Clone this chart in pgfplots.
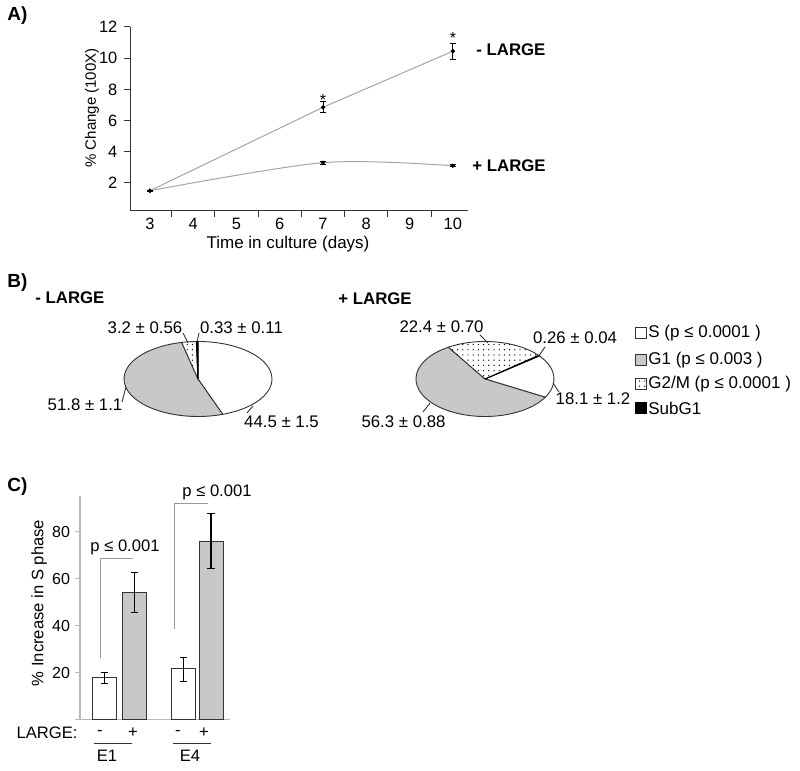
\documentclass[border=0pt]{standalone}
\usepackage{fontspec}
\setmainfont{Liberation Sans}
\usepackage{pgfplots}
\usepackage{pgfplotstable}
\pgfplotsset{compat=1.18}
\usetikzlibrary{patterns}

\definecolor{barfill}{RGB}{200,200,200}
\definecolor{linegray}{RGB}{165,165,165}
\definecolor{axgray}{RGB}{185,185,185}

\pgfdeclarepatternformonly{sparsedots}{\pgfqpoint{-1pt}{-1pt}}{\pgfqpoint{1pt}{1pt}}{\pgfqpoint{2.6pt}{2.6pt}}%
  {\pgfpathcircle{\pgfqpoint{0pt}{0pt}}{0.35pt}\pgfusepath{fill}}

\newcommand\fs[1]{\fontsize{#1}{#1}\selectfont}
% one slice of an elliptic pie, in the axis of that pie
\newcommand\slice[5]{\path[#5] (axis cs:0,0) -- (axis cs:{cos(#1)},{sin(#1)})
  arc[start angle=#1, end angle=#2, x radius=#3, y radius=#4] -- cycle;}

% A) growth, % change (100X)
\pgfplotstableread{
day minus minuserr plus pluserr
3   1.5   0.05     1.5  0.05
7   6.85  0.35     3.3  0.08
10  10.45 0.5      3.1  0.06
}\growth

% C) increase in S phase
\pgfplotstableread{
x    y    e
0    17.9 2.5
2.63 21.7 5.1
}\sminus
\pgfplotstableread{
x    y    e
1    54.3 8.6
3.55 76.1 11.7
}\splus

\begin{document}
\begin{tikzpicture}[x=0.5pt, y=0.5pt, lab/.style={inner sep=0pt}]
\useasboundingbox (0,0) rectangle (800,771);
\coordinate (pA) at (130,560);
\coordinate (pBl) at (124,354.5);
\coordinate (pBr) at (416,354.5);
\coordinate (pC) at (80,51);

% ---------------- A ----------------
\begin{axis}[
  at={(pA)}, anchor=south west, scale only axis,
  width=169pt, height=92pt,
  xmin=2.54, xmax=10.35, ymin=0.2, ymax=12,
  axis x line=bottom, axis y line=left,
  axis line style={-, black!80, line width=0.5pt},
  xtick={3,...,10}, minor xtick={3.5,4.5,...,9.5},
  ytick={2,4,...,12}, minor ytick={2,4,...,12},
  tick align=outside, major tick length=0pt, minor tick length=3pt,
  tick style={black!80, line width=0.5pt},
  ticklabel style={font=\fs{8.2}},
  yticklabel style={xshift=-2.8pt},
  /pgf/number format/assume math mode=true,
  clip=false,
]
\addplot[linegray, line width=0.5pt, mark=*, mark size=0.8pt, mark options={black},
  error bars/.cd, y dir=both, y explicit,
  error bar style={black, line width=0.5pt},
  error mark options={rotate=90, black, mark size=1.4pt}]
  table[x=day, y=minus, y error=minuserr] {\growth};
\addplot[linegray, line width=0.5pt, smooth, mark=*, mark size=0.8pt, mark options={black},
  error bars/.cd, y dir=both, y explicit,
  error bar style={black, line width=0.5pt},
  error mark options={rotate=90, black, mark size=1.4pt}]
  table[x=day, y=plus, y error=pluserr] {\growth};
\node[lab, font=\fs{8}] at (axis cs:7,7.35) {*};
\node[lab, font=\fs{8}] at (axis cs:10,11.3) {*};
\end{axis}
\node[lab, anchor=west, font=\bfseries\fs{9.5}] at (7,755) {A)};
\node[lab, anchor=west, font=\bfseries\fs{8.4}] at (476,721) {- LARGE};
\node[lab, anchor=west, font=\bfseries\fs{8.4}] at (472,605) {+ LARGE};
\node[lab, font=\fs{8.5}] at (288,527) {Time in culture (days)};
\node[lab, rotate=90, font=\fs{7.5}] at (92,663) {\% Change (100X)};

% ---------------- B ----------------
% -LARGE: S, G1, G2/M, SubG1 (percent), from 12 o'clock clockwise
\pgfmathsetmacro\kL{360/(44.5+51.8+3.2+0.33)}
\pgfmathsetmacro\LaA{90}
\pgfmathsetmacro\LaB{\LaA-44.5*\kL}
\pgfmathsetmacro\LaC{\LaB-51.8*\kL}
\pgfmathsetmacro\LaD{\LaC-3.2*\kL}
\pgfmathsetmacro\LaE{\LaD-0.33*\kL}
% +LARGE
\pgfmathsetmacro\kR{360/(18.1+56.3+22.4+0.26)}
\pgfmathsetmacro\RaA{38}
\pgfmathsetmacro\RaB{\RaA-18.1*\kR}
\pgfmathsetmacro\RaC{\RaB-56.3*\kR}
\pgfmathsetmacro\RaD{\RaC-22.4*\kR}
\pgfmathsetmacro\RaE{\RaD-0.26*\kR}

\begin{axis}[at={(pBl)}, anchor=south west, scale only axis,
  width=74pt, height=37.5pt, xmin=-1, xmax=1, ymin=-1, ymax=1,
  hide axis, clip=false]
\slice{\LaA}{\LaB}{37pt}{18.75pt}{fill=white, draw=black!80, line width=0.45pt}
\slice{\LaB}{\LaC}{37pt}{18.75pt}{fill=barfill, draw=black!80, line width=0.45pt}
\slice{\LaC}{\LaD}{37pt}{18.75pt}{fill=white, draw=black!80, line width=0.45pt, postaction={pattern=sparsedots}}
\slice{\LaD}{\LaE}{37pt}{18.75pt}{fill=black, draw=black, line width=0.6pt}
\end{axis}

\begin{axis}[at={(pBr)}, anchor=south west, scale only axis,
  width=69pt, height=37.5pt, xmin=-1, xmax=1, ymin=-1, ymax=1,
  hide axis, clip=false]
\slice{\RaA}{\RaB}{34.5pt}{18.75pt}{fill=white, draw=black!80, line width=0.45pt}
\slice{\RaB}{\RaC}{34.5pt}{18.75pt}{fill=barfill, draw=black!80, line width=0.45pt}
\slice{\RaC}{\RaD}{34.5pt}{18.75pt}{fill=white, draw=black!80, line width=0.45pt, postaction={pattern=sparsedots}}
\slice{\RaD}{\RaE}{34.5pt}{18.75pt}{fill=black, draw=black, line width=0.45pt}
\end{axis}

\node[lab, anchor=west, font=\bfseries\fs{9.5}] at (7,488) {B)};
\node[lab, anchor=west, font=\bfseries\fs{8.4}] at (35,473) {- LARGE};
\node[lab, anchor=west, font=\bfseries\fs{8.4}] at (338,472) {+ LARGE};

\begin{scope}[font=\fs{8.4}]
\node[lab] at (145,443) {3.2 ± 0.56};
\node[lab] at (241.5,443) {0.33 ± 0.11};
\node[lab] at (85,366) {51.8 ± 1.1};
\node[lab] at (281.5,349) {44.5 ± 1.5};
\node[lab] at (441.5,444) {22.4 ± 0.70};
\node[lab] at (575,433) {0.26 ± 0.04};
\node[lab] at (593,372) {18.1 ± 1.2};
\node[lab] at (403.5,349) {56.3 ± 0.88};
\end{scope}
\begin{scope}[black!80, line width=0.45pt]
\draw (183,438) -- (188,428);
\draw (199,438) -- (197,429);
\draw (122,369) -- (126,384);
\draw (247,358) -- (253,365);
\draw (480,436) -- (488,428);
\draw (545,424) -- (538,414);
\draw (553,388) -- (559,379);
\draw (430,368) -- (423,359);
\end{scope}

% legend
\draw[black!80, line width=0.45pt, fill=white] (635,432.5) rectangle (646,443.5);
\draw[black!80, line width=0.45pt, fill=barfill] (635,405.5) rectangle (646,416.5);
\draw[black!80, line width=0.45pt, fill=white, postaction={pattern=sparsedots}] (635,381.5) rectangle (646,392.5);
\draw[black, line width=0.45pt, fill=black] (635,357.5) rectangle (646,368.5);
\begin{scope}[font=\fs{8.5}]
\node[lab, anchor=west] at (648,438) {S (p ≤ 0.0001 )};
\node[lab, anchor=west] at (648,411) {G1 (p ≤ 0.003 )};
\node[lab, anchor=west] at (648,387) {G2/M (p ≤ 0.0001 )};
\node[lab, anchor=west] at (648,363) {SubG1};
\end{scope}

% ---------------- C ----------------
\begin{axis}[
  at={(pC)}, anchor=south west, scale only axis,
  width=75pt, height=112pt,
  xmin=-0.817, xmax=4.18, ymin=0, ymax=95.3,
  axis x line=bottom, axis y line=left,
  axis line style={-, axgray, line width=0.5pt},
  x axis line style={shorten <=-2.5pt},
  xtick=\empty, ytick={20,40,60,80}, minor ytick={20,40,60,80},
  tick align=outside, major tick length=0pt, minor tick length=2.5pt,
  tick style={axgray, line width=0.5pt},
  ticklabel style={font=\fs{8}},
  yticklabel style={xshift=-1.5pt},
  /pgf/number format/assume math mode=true,
  clip=false,
]
\addplot[ybar, bar width=12pt, bar shift=0pt, fill=white, draw=black!80, line width=0.5pt,
  error bars/.cd, y dir=both, y explicit,
  error bar style={black, line width=0.6pt},
  error mark options={rotate=90, black, mark size=1.8pt}]
  table[x=x, y=y, y error=e] {\sminus};
\addplot[ybar, bar width=12pt, bar shift=0pt, fill=barfill, draw=black!80, line width=0.5pt,
  error bars/.cd, y dir=both, y explicit,
  error bar style={black, line width=0.6pt},
  error mark options={rotate=90, black, mark size=1.8pt}]
  table[x=x, y=y, y error=e] {\splus};
\draw[gray!80, line width=0.5pt] (axis cs:-0.15,26.4) -- (axis cs:-0.15,68.9) -- (axis cs:0.95,68.9);
\draw[gray!80, line width=0.5pt] (axis cs:2.32,38.7) -- (axis cs:2.32,91.9) -- (axis cs:3.45,91.9);
\end{axis}
\node[lab, anchor=west, font=\bfseries\fs{9.5}] at (7,284) {C)};
\node[lab, rotate=90, font=\fs{8.3}] at (39,168) {\% Increase in S phase};
\begin{scope}[font=\fs{8.3}]
\node[lab] at (125,224) {p ≤ 0.001};
\node[lab] at (217,279) {p ≤ 0.001};
\node[lab] at (47,38) {LARGE:};
\node[lab] at (100,38) {-};
\node[lab] at (133,38) {+};
\node[lab] at (178,38) {-};
\node[lab] at (204,38) {+};
\node[lab] at (107,15) {E1};
\node[lab] at (190,15) {E4};
\end{scope}
\draw[black!80, line width=0.5pt] (94,27) -- (132,27);
\draw[black!80, line width=0.5pt] (173,27) -- (211,27);
\end{tikzpicture}
\end{document}
